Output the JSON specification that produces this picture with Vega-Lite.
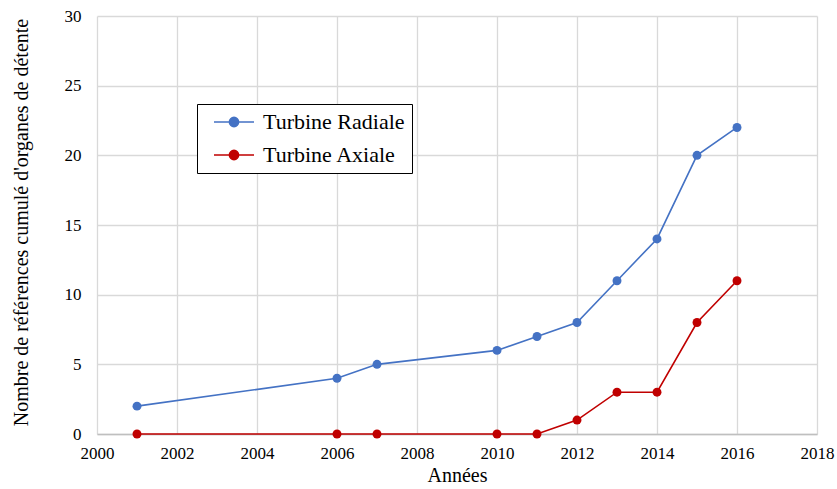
{
  "$schema": "https://vega.github.io/schema/vega-lite/v6.json",
  "width": 720,
  "height": 418,
  "autosize": {"type": "none"},
  "padding": {"left": 97, "top": 16, "right": 20, "bottom": 55},
  "background": "white",
  "config": {
    "font": "Liberation Serif",
    "view": {"stroke": null},
    "style": {"guide-label": {"font": "Liberation Serif"}, "guide-title": {"font": "Liberation Serif"}},
    "axis": {"labelFont": "Liberation Serif", "titleFont": "Liberation Serif", "labelColor": "black", "titleColor": "black", "titleFontWeight": "normal", "gridColor": "#D9D9D9", "gridWidth": 1.3, "ticks": false}
  },
  "data": {
    "values": [
      {"annee": 2001, "serie": "Turbine Radiale", "n": 2},
      {"annee": 2006, "serie": "Turbine Radiale", "n": 4},
      {"annee": 2007, "serie": "Turbine Radiale", "n": 5},
      {"annee": 2010, "serie": "Turbine Radiale", "n": 6},
      {"annee": 2011, "serie": "Turbine Radiale", "n": 7},
      {"annee": 2012, "serie": "Turbine Radiale", "n": 8},
      {"annee": 2013, "serie": "Turbine Radiale", "n": 11},
      {"annee": 2014, "serie": "Turbine Radiale", "n": 14},
      {"annee": 2015, "serie": "Turbine Radiale", "n": 20},
      {"annee": 2016, "serie": "Turbine Radiale", "n": 22},
      {"annee": 2001, "serie": "Turbine Axiale", "n": 0},
      {"annee": 2006, "serie": "Turbine Axiale", "n": 0},
      {"annee": 2007, "serie": "Turbine Axiale", "n": 0},
      {"annee": 2010, "serie": "Turbine Axiale", "n": 0},
      {"annee": 2011, "serie": "Turbine Axiale", "n": 0},
      {"annee": 2012, "serie": "Turbine Axiale", "n": 1},
      {"annee": 2013, "serie": "Turbine Axiale", "n": 3},
      {"annee": 2014, "serie": "Turbine Axiale", "n": 3},
      {"annee": 2015, "serie": "Turbine Axiale", "n": 8},
      {"annee": 2016, "serie": "Turbine Axiale", "n": 11}
    ]
  },
  "mark": {"type": "line", "strokeWidth": 1.6, "point": {"filled": true, "size": 80, "opacity": 1}},
  "encoding": {
    "x": {
      "field": "annee", "type": "quantitative",
      "scale": {"domain": [2000, 2018], "nice": false, "zero": false},
      "axis": {"values": [2000, 2002, 2004, 2006, 2008, 2010, 2012, 2014, 2016, 2018], "format": "d", "title": "Années", "labelFont": "Liberation Serif", "titleFont": "Liberation Serif", "labelFontSize": 17, "titleFontSize": 20, "labelPadding": 11, "titlePadding": 4, "domainColor": "#BFBFBF", "domainWidth": 1.3, "labelFlush": false}
    },
    "y": {
      "field": "n", "type": "quantitative",
      "scale": {"domain": [0, 30], "nice": false},
      "axis": {"values": [0, 5, 10, 15, 20, 25, 30], "title": "Nombre de références cumulé d'organes de détente", "labelFont": "Liberation Serif", "titleFont": "Liberation Serif", "labelFontSize": 17, "titleFontSize": 20, "labelPadding": 16, "titlePadding": 33, "titleY": 206, "domain": false}
    },
    "color": {
      "field": "serie", "type": "nominal",
      "scale": {"domain": ["Turbine Radiale", "Turbine Axiale"], "range": ["#4472C4", "#C00000"]},
      "legend": {
        "title": null, "orient": "none", "legendX": 100, "legendY": 88,
        "strokeColor": "black", "fillColor": "white", "padding": 7,
        "labelFontSize": 22, "labelFont": "Liberation Serif", "labelColor": "black", "labelOffset": 18,
        "rowPadding": 11, "symbolSize": 400, "symbolOffset": 19, "symbolStrokeWidth": 1.6,
        "symbolType": "M-2,0H2M-0.46,0A0.46,0.46 0 1,0 0.46,0A0.46,0.46 0 1,0 -0.46,0Z",
        "encode": {"symbols": {"update": {"stroke": {"scale": "color", "field": "value"}, "fill": {"scale": "color", "field": "value"}, "opacity": {"value": 1}}}}
      }
    }
  }
}
